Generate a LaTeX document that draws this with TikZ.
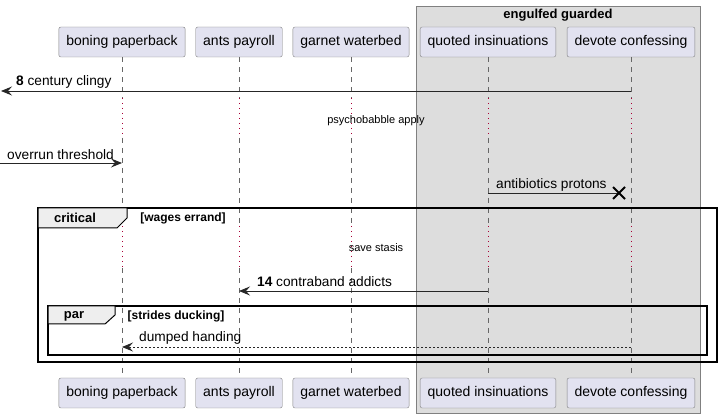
\documentclass[tikz,border=0pt]{standalone}
\usepackage{fontspec}
\setmainfont{Liberation Sans}
\usetikzlibrary{arrows.meta, positioning}

\definecolor{actorblue}{HTML}{E2E2F0}
\definecolor{boxgray}{HTML}{DDDDDD}
\definecolor{tabgray}{HTML}{EEEEEE}
\definecolor{delayred}{HTML}{A80036}

\begin{document}
\begin{tikzpicture}
    [
    x=1pt, y=-1pt,
    actor/.style={
        rectangle,
        draw=black!50,
        fill=actorblue,
        rounded corners=2pt,
        minimum height=30pt,
        inner xsep=7.5pt,
        font=\fontsize{14}{16}\selectfont
    },
    lifeline/.style={
        draw=black!60,
        line width=0.5pt,
        dash pattern=on 5pt off 5pt
    },
    delayline/.style={
        draw=delayred,
        line width=0.6pt,
        dash pattern=on 1pt off 4pt
    },
    msg/.style={
        draw=black!85,
        line width=0.9pt,
        -{Stealth[length=11pt, width=9pt, inset=4pt]}
    },
    reply/.style={
        msg,
        dash pattern=on 2pt off 2pt
    },
    msglabel/.style={
        anchor=west,
        inner sep=0pt,
        font=\fontsize{13.7}{15}\selectfont
    },
    delaylabel/.style={
        inner sep=0pt,
        font=\fontsize{11}{13}\selectfont
    },
    framebox/.style={
        draw=black,
        line width=1.5pt
    },
    frametab/.style={
        draw=black,
        line width=1pt,
        fill=tabgray
    },
    tablabel/.style={
        inner sep=0pt,
        font=\bfseries\fontsize{13}{15}\selectfont
    },
    guardlabel/.style={
        inner sep=0pt,
        font=\bfseries\fontsize{12}{14}\selectfont
    }
    ]
    \useasboundingbox (0,0) rectangle (721,419);

    % box around the last two participants
    \draw[draw=black!50, fill=boxgray] (416,6) rectangle (700,413);
    \node (boxtitle) [tablabel] at (558,15) {engulfed guarded};

    % participants, top and bottom
    \node (bpT) [actor] at (122,42) {boning paperback};
    \node (apT) [actor] at (239,42) {ants payroll};
    \node (gwT) [actor] at (351,42) {garnet waterbed};
    \node (qiT) [actor] at (488,42) {quoted insinuations};
    \node (dcT) [actor] at (631,42) {devote confessing};

    \node (bpB) [actor] at (122,393) {boning paperback};
    \node (apB) [actor] at (239,393) {ants payroll};
    \node (gwB) [actor] at (351,393) {garnet waterbed};
    \node (qiB) [actor] at (488,393) {quoted insinuations};
    \node (dcB) [actor] at (631,393) {devote confessing};

    % rows of the two delays
    \coordinate (d1a) at (0,98);
    \coordinate (d1b) at (0,138);
    \coordinate (d2a) at (0,226);
    \coordinate (d2b) at (0,268);

    % lifelines, dotted during the delays
    \foreach \p in {bp, ap, gw, qi, dc} {
        \draw[lifeline] (\p T.south) -- (\p T.south |- d1a);
        \draw[delayline] (\p T.south |- d1a) -- (\p T.south |- d1b);
        \draw[lifeline] (\p T.south |- d1b) -- (\p T.south |- d2a);
        \draw[delayline] (\p T.south |- d2a) -- (\p T.south |- d2b);
        \draw[lifeline] (\p T.south |- d2b) -- (\p B.north);
    }

    % critical and par frames
    \draw[framebox] (38,208) rectangle (717,362);
    \draw[frametab] (38,208) -- (127,208) -- (127,218) -- (117,228) -- (38,228) -- cycle;
    \node (crit) [tablabel] at (75,218) {critical};
    \node (critguard) [guardlabel] at (183,218) {[wages errand]};

    \draw[framebox] (48,306) rectangle (707,355);
    \draw[frametab] (48,306) -- (115,306) -- (115,315) -- (105,324) -- (48,324) -- cycle;
    \node (par) [tablabel] at (74,316) {par};
    \node (parguard) [guardlabel] at (176,316) {[strides ducking]};

    % messages
    \coordinate (outL) at (1,91);
    \draw[msg] (dcT.south |- outL) -- (outL);
    \node (m8) [msglabel] at (16,82) {\textbf{8} century clingy};

    \node (delay1) [delaylabel] at (376,121) {psychobabble apply};

    \coordinate (inL) at (0,163);
    \draw[msg] (inL) -- (bpT.south |- inL);
    \node (m9) [msglabel] at (7,155) {overrun threshold};

    \coordinate (kill) at (619,193);
    \draw[draw=black!85, line width=0.9pt] (qiT.south |- kill) -- (kill);
    \draw[line width=2pt] ([shift={(-6,-6)}]kill) -- ([shift={(6,6)}]kill)
                          ([shift={(-6,6)}]kill) -- ([shift={(6,-6)}]kill);
    \node (m10) [msglabel] at (496,185) {antibiotics protons};

    \node (delay2) [delaylabel] at (376,248) {save stasis};

    \coordinate (row14) at (0,291);
    \draw[msg] (qiT.south |- row14) -- (apT.south |- row14);
    \node (m14) [msglabel] at (257,282) {\textbf{14} contraband addicts};

    \coordinate (row15) at (0,347);
    \draw[reply] (dcT.south |- row15) -- (bpT.south |- row15);
    \node (m15) [msglabel] at (139,338) {dumped handing};

\end{tikzpicture}
\end{document}
